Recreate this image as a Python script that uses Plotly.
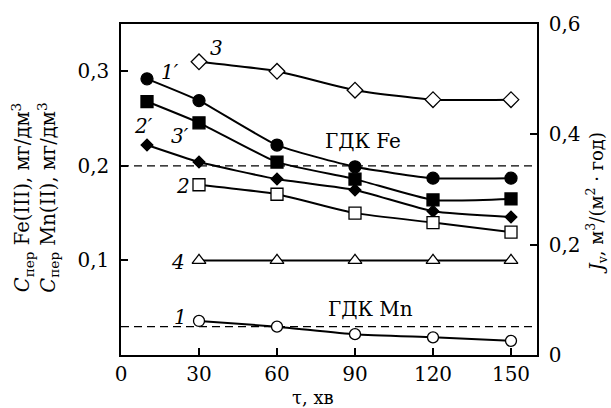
import plotly.graph_objects as go

# ---- data ----
t_prime = [10, 30, 60, 90, 120, 150]
c1_prime = [0.292, 0.269, 0.222, 0.199, 0.187, 0.187]
c2_prime = [0.268, 0.2455, 0.204, 0.186, 0.164, 0.165]
c3_prime = [0.222, 0.204, 0.186, 0.1745, 0.152, 0.146]

t = [30, 60, 90, 120, 150]
c3 = [0.310, 0.300, 0.280, 0.270, 0.270]
c2 = [0.180, 0.170, 0.150, 0.140, 0.130]
c4 = [0.100, 0.100, 0.100, 0.100, 0.100]
c1 = [0.036, 0.030, 0.022, 0.0187, 0.015]

gdk_fe = 0.2
gdk_mn = 0.03

x_ticks = [0, 30, 60, 90, 120, 150]
y_ticks = [0.1, 0.2, 0.3]
y_ticktext = ["0,1", "0,2", "0,3"]
y2_ticks = [0, 0.2, 0.4, 0.6]
y2_ticktext = ["0", "0,2", "0,4", "0,6"]

FONT = "DejaVu Serif"
W, H = 611, 408
L, R, T, B = 121, 74, 12, 53

fig = go.Figure()

def add(x, y, symbol, size, fill):
    fig.add_trace(go.Scatter(
        x=x, y=y, mode="lines+markers",
        line=dict(color="black", width=2, shape="spline", smoothing=0.5),
        marker=dict(symbol=symbol, size=size, color=fill,
                    line=dict(color="black", width=1.3)),
        showlegend=False, cliponaxis=False))

add(t, c3, "diamond", 12, "white")
add(t_prime, c1_prime, "circle", 12, "black")
add(t_prime, c2_prime, "square", 12, "black")
add(t_prime, c3_prime, "diamond", 9, "black")
add(t, c2, "square", 12, "white")
add(t, c4, "triangle-up", 12, "white")
add(t, c1, "circle", 11, "white")

# dummy trace so the right axis is rendered
fig.add_trace(go.Scatter(x=[None], y=[None], yaxis="y2", showlegend=False))

for v in (gdk_fe, gdk_mn):
    fig.add_shape(type="line", xref="paper", x0=0, x1=1, yref="y", y0=v, y1=v,
                  line=dict(color="black", width=1.3, dash="8px,5px"), layer="below")

axis_common = dict(showgrid=False, zeroline=False, showline=True, linecolor="black",
                   linewidth=1.5, ticks="inside", ticklen=7, tickwidth=1.5,
                   tickcolor="black", tickfont=dict(family=FONT, size=20, color="black"))

fig.update_layout(
    width=W, height=H,
    margin=dict(l=L, r=R, t=T, b=B),
    plot_bgcolor="white", paper_bgcolor="white",
    font=dict(family=FONT, color="black"),
    xaxis=dict(range=[0, 160], tickvals=x_ticks, mirror=True, **axis_common),
    yaxis=dict(range=[0, 0.35], tickvals=y_ticks, ticktext=y_ticktext,
               ticklabelstandoff=6, **axis_common),
    yaxis2=dict(range=[0, 0.6], tickvals=y2_ticks, ticktext=y2_ticktext,
                overlaying="y", side="right", ticklabelstandoff=6, **axis_common),
)

pw, ph = W - L - R, H - T - B
def px(xp):
    return (xp - L) / pw
def py(yp):
    return (H - B - yp) / ph

def ann(**kw):
    kw.setdefault("showarrow", False)
    kw.setdefault("xanchor", "center")
    kw.setdefault("yanchor", "middle")
    fig.add_annotation(**kw)

# axis titles
ann(xref="paper", yref="paper", x=px(313), y=py(399), text="τ, хв",
    font=dict(family=FONT, size=18, color="black"))
ann(xref="paper", yref="paper", x=px(35), y=py(192),
    text="<i>C</i><sub>пер</sub> Fe(III), мг/дм<sup>3</sup><br>"
         "<i>C</i><sub>пер</sub> Mn(II), мг/дм<sup>3</sup>",
    textangle=-90, font=dict(family=FONT, size=19.5, color="black"))
ann(xref="paper", yref="paper", x=px(597), y=py(198),
    text="<i>J</i><sub>v</sub>, м<sup>3</sup>/(м<sup>2</sup> · год)",
    textangle=-90, font=dict(family=FONT, size=18, color="black"))

# curve labels
labels = [
    ("3", 36.9, 0.3245), ("1′", 18.8, 0.299), ("2′", 8.5, 0.242),
    ("3′", 22.7, 0.232), ("2", 23.8, 0.179), ("4", 21.9, 0.098), ("1", 22.7, 0.040),
]
for txt, x, y in labels:
    ann(x=x, y=y, text=f"<i>{txt}</i>", font=dict(family=FONT, size=20, color="black"))
ann(x=93, y=0.2265, text="ГДК Fe", font=dict(family=FONT, size=20, color="black"))
ann(x=95.8, y=0.049, text="ГДК Mn", font=dict(family=FONT, size=20, color="black"))

fig.write_html("out.html")
